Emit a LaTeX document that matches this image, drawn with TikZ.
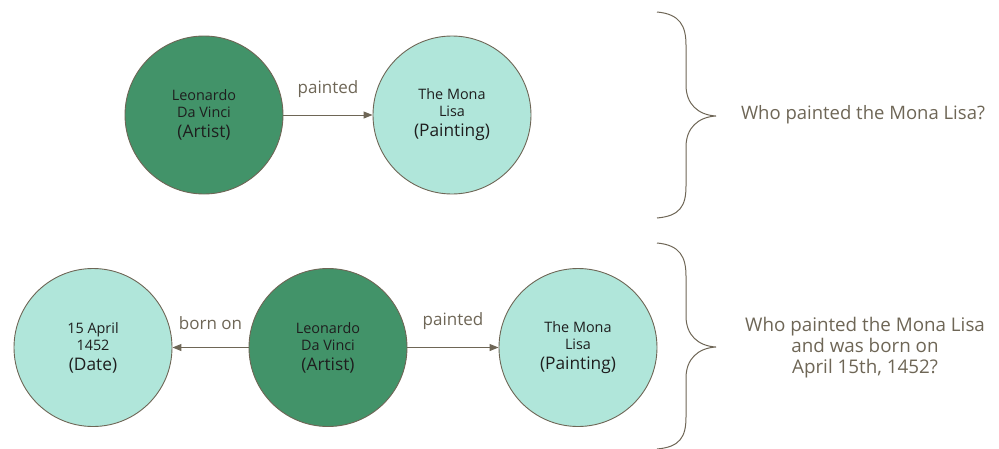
\documentclass[tikz,border=0pt]{standalone}
\usepackage{fontspec}
\setmainfont{Open Sans}
\usetikzlibrary{arrows.meta}
\definecolor{darkg}{HTML}{429369}
\definecolor{lightg}{HTML}{B0E6DA}
\definecolor{edgec}{HTML}{6E6656}
\definecolor{txtc}{HTML}{1E1E1E}
\tikzset{
  ent/.style={circle, draw=edgec, line width=0.9pt, minimum size=158pt, inner sep=0pt, align=center, text=txtc, font=\fontsize{14.4}{17}\selectfont},
  entdark/.style={ent, fill=darkg},
  entlight/.style={ent, fill=lightg},
  rel/.style={draw=edgec, line width=1pt, -{Triangle[length=9pt,width=7pt]}},
  lbl/.style={text=edgec, font=\fontsize{17}{20}\selectfont, inner sep=0pt},
  ques/.style={text=edgec, font=\fontsize{18.5}{21}\selectfont, align=center, inner sep=0pt},
  brc/.style={draw=edgec, line width=1pt},
}
\newcommand{\typ}[1]{{\fontsize{17.3}{20}\selectfont #1}}
\begin{document}
\begin{tikzpicture}[x=1pt,y=-1pt]
\useasboundingbox (0,0) rectangle (999,448);
% top row
\node[entdark] (a1) at (204,115) {Leonardo\\Da Vinci\\[3pt]\typ{(Artist)}};
\node[entlight] (p1) at (452,115) {The Mona\\Lisa\\[3pt]\typ{(Painting)}};
\draw[rel] (a1) -- (p1) node[lbl, midway, above=17pt] (l1) {painted};
% top brace
\draw[brc] (657,12) .. controls (680,14) and (686,26) .. (686,45)
  -- (686,85) .. controls (686,104) and (698,115) .. (716,116)
  .. controls (698,117) and (686,128) .. (686,147)
  -- (686,186) .. controls (686,206) and (680,216) .. (657,218);
\node[ques] (q1) at (863,115) {Who painted the Mona Lisa?};
% bottom row
\node[entlight] (d2) at (93,347.5) {15 April\\1452\\[3pt]\typ{(Date)}};
\node[entdark] (a2) at (328,347.5) {Leonardo\\Da Vinci\\[3pt]\typ{(Artist)}};
\node[entlight] (p2) at (578,347.5) {The Mona\\Lisa\\[3pt]\typ{(Painting)}};
\draw[rel] (a2) -- (d2) node[lbl, midway, above=17pt] (l2) {born on};
\draw[rel] (a2) -- (p2) node[lbl, midway, above=17pt] (l3) {painted};
% bottom brace
\draw[brc] (657,243) .. controls (680,245) and (686,257) .. (686,276)
  -- (686,316) .. controls (686,335) and (698,346) .. (716,347)
  .. controls (698,348) and (686,359) .. (686,378)
  -- (686,417) .. controls (686,437) and (680,447) .. (657,449);
\node[ques, font=\fontsize{18.8}{21}\selectfont] (q2) at (865,348) {Who painted the Mona Lisa\\and was born on\\April 15th, 1452?};
\end{tikzpicture}
\end{document}
